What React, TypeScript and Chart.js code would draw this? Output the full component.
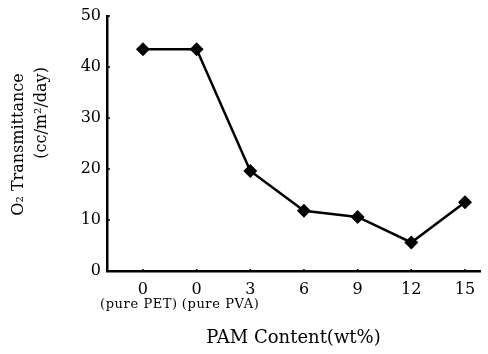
import React, { useEffect, useRef } from "react";
import { Chart, registerables } from "chart.js";

Chart.register(...registerables);

const categories = ["0", "0", "3", "6", "9", "12", "15"];
const subLabels = ["(pure PET)", "(pure PVA)"];
const transmittance = [43.5, 43.5, 19.6, 11.8, 10.6, 5.6, 13.5];
const yTicks = [0, 10, 20, 30, 40, 50];
const yTitle = ["O\u2082 Transmittance", "(cc/m\u00b2/day)"];
const xTitle = "PAM Content(wt%)";

const FONT = "'DejaVu Serif', 'Liberation Serif', serif";

const decorPlugin = {
  id: "decor",
  afterDraw(chart: any) {
    const ctx = chart.ctx as CanvasRenderingContext2D;
    const xs = chart.scales.x;
    const ys = chart.scales.y;
    const area = chart.chartArea;
    ctx.save();
    ctx.fillStyle = "#000";
    ctx.strokeStyle = "#000";
    // inward tick marks
    ctx.lineWidth = 1.5;
    yTicks.forEach((v) => {
      if (v === 0) return;
      const y = ys.getPixelForValue(v);
      ctx.beginPath();
      ctx.moveTo(area.left, y);
      ctx.lineTo(area.left + 3, y);
      ctx.stroke();
    });
    categories.forEach((_, i) => {
      const x = xs.getPixelForValue(i);
      ctx.beginPath();
      ctx.moveTo(x, area.bottom);
      ctx.lineTo(x, area.bottom - 2);
      ctx.stroke();
    });
    // sub labels under the first two categories
    const p0 = xs.getPixelForValue(0);
    const p1 = xs.getPixelForValue(1);
    const mid = (p0 + p1) / 2;
    ctx.font = `13px ${FONT}`;
    (ctx as any).letterSpacing = "0.6px";
    ctx.textBaseline = "middle";
    ctx.textAlign = "right";
    ctx.fillText(subLabels[0], mid + 8, area.bottom + 34);
    ctx.textAlign = "left";
    ctx.fillText(subLabels[1], mid + 12, area.bottom + 34);
    (ctx as any).letterSpacing = "0px";
    // x title
    ctx.font = `18px ${FONT}`;
    ctx.textAlign = "center";
    ctx.fillText(xTitle, (area.left + area.right) / 2, area.bottom + 67);
    // y title (rotated)
    ctx.font = `16px ${FONT}`;
    ctx.save();
    ctx.translate(23, ys.getPixelForValue(24.8));
    ctx.rotate(-Math.PI / 2);
    ctx.textBaseline = "alphabetic";
    ctx.fillText(yTitle[0], 0, 0);
    ctx.restore();
    ctx.save();
    ctx.translate(46, ys.getPixelForValue(31));
    ctx.rotate(-Math.PI / 2);
    ctx.textBaseline = "alphabetic";
    ctx.fillText(yTitle[1], 0, 0);
    ctx.restore();
    ctx.restore();
  },
};

export default function App() {
  const ref = useRef<HTMLCanvasElement>(null);
  useEffect(() => {
    if (!ref.current) return;
    const chart = new Chart(ref.current, {
      type: "line",
      data: {
        datasets: [
          {
            data: transmittance.map((v, i) => ({ x: i, y: v })),
            borderColor: "#000",
            backgroundColor: "#000",
            borderWidth: 2.5,
            pointStyle: "rectRot",
            pointRadius: 7,
            pointBackgroundColor: "#000",
            pointBorderColor: "#000",
            pointBorderWidth: 0,
            tension: 0,
          },
        ],
      },
      options: {
        responsive: false,
        animation: false,
        events: [],
        layout: { padding: { top: 16, right: 8, left: 0, bottom: 0 } },
        plugins: {
          legend: { display: false },
          tooltip: { enabled: false },
          title: { display: false },
        },
        scales: {
          x: {
            type: "linear",
            min: -0.67,
            max: 6.28,
            afterBuildTicks: (scale: any) => {
              scale.ticks = categories.map((_, i) => ({ value: i }));
            },
            afterFit: (scale: any) => {
              scale.height = 83;
            },
            ticks: {
              autoSkip: false,
              maxRotation: 0,
              padding: 9,
              color: "#000",
              font: { family: FONT, size: 16 },
              callback: (v: any) => categories[v as number] ?? "",
            },
            grid: { drawOnChartArea: false, drawTicks: false },
            border: { display: true, color: "#000", width: 2.5 },
          },
          y: {
            min: 0,
            max: 50,
            afterBuildTicks: (scale: any) => {
              scale.ticks = yTicks.map((v) => ({ value: v }));
            },
            afterFit: (scale: any) => {
              scale.width = 107;
            },
            ticks: {
              padding: 6,
              color: "#000",
              font: { family: FONT, size: 16 },
            },
            grid: { drawOnChartArea: false, drawTicks: false },
            border: { display: true, color: "#000", width: 2.5 },
          },
        },
      },
      plugins: [decorPlugin],
    });
    return () => chart.destroy();
  }, []);
  return (
    <div style={{ position: "absolute", left: 0, top: 0, width: 488, height: 354, background: "#fff" }}>
      <canvas ref={ref} width={488} height={354} />
    </div>
  );
}
